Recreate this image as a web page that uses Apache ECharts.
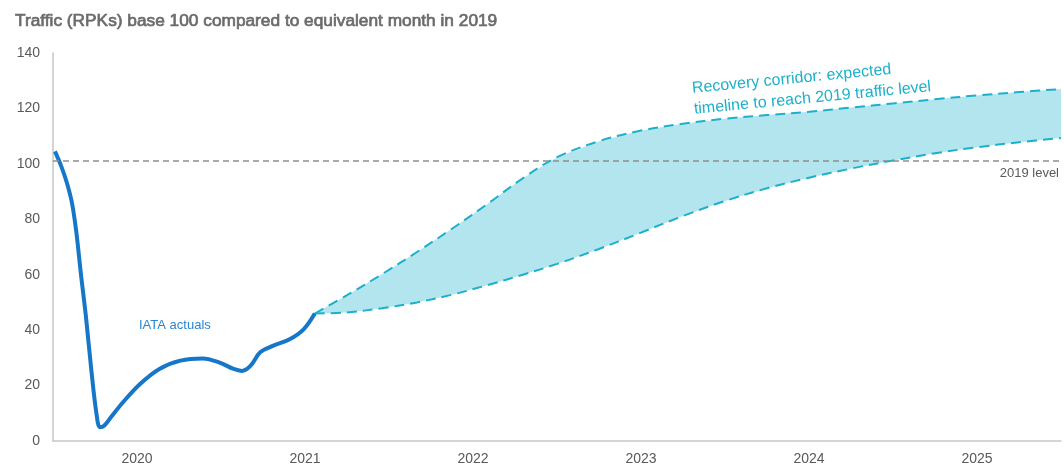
<!DOCTYPE html>
<html>
<head>
<meta charset="utf-8">
<title>Traffic (RPKs) recovery</title>
<script src="https://cdn.jsdelivr.net/npm/echarts@6.0.0/dist/echarts.min.js"></script>
<style>
  html, body { margin: 0; padding: 0; background: #fff; }
  #chart { width: 1064px; height: 466px; }
</style>
</head>
<body>
<div id="chart"></div>
<script>
// x positions are months since Jan 2020 (0 = start of 2020, 72 = end of 2025)
var years = ['2020', '2021', '2022', '2023', '2024', '2025'];

// IATA actuals
var actualMonth = [0.14, 0.6, 1.0, 1.35, 1.65, 2.0, 2.35, 2.75, 3.1, 3.35, 3.65, 4.2, 5.0, 6.2, 7.6, 9.1, 10.7, 11.9, 12.9, 13.5, 14.1, 14.8, 15.7, 16.9, 17.9, 18.7];
var actualValue = [104.5, 99, 93, 86, 76, 60, 45, 25, 10, 5, 5.5, 9, 14, 20.5, 26, 29, 29.8, 28.3, 26, 25.3, 27.1, 32, 34.3, 36.7, 40.3, 46];

// recovery corridor
var corridorMonth = [18.7, 21, 23.5, 26, 28.5, 31, 33.5, 36, 39, 42, 45, 48, 51, 54, 57, 60, 63, 66, 69, 72];
var corridorHigh = [46, 52.6, 60.2, 68.2, 76.6, 85.4, 94.6, 102.4, 108.2, 112, 114.5, 116.3, 117.6, 118.8, 120.3, 121.8, 123.3, 124.7, 125.9, 127];
var corridorLow = [46, 46.4, 47.9, 50, 52.8, 56.2, 59.9, 63.9, 69.3, 75.2, 81.2, 86.6, 91.2, 95, 98.3, 101.2, 103.8, 106, 107.8, 109.3];

var level2019 = 101;
var yTicks = [0, 20, 40, 60, 80, 100, 120, 140];

function pairs(xs, ys) {
    var out = [];
    for (var i = 0; i < xs.length; i++) {
        out.push([xs[i], ys[i]]);
    }
    return out;
}

var actualData = pairs(actualMonth, actualValue);
var highData = pairs(corridorMonth, corridorHigh);
var lowData = pairs(corridorMonth, corridorLow);

var font = "'Liberation Sans', Arial, sans-serif";
var teal = '#1cb1cb';

var option = {
    animation: false,
    title: {
        text: 'Traffic (RPKs) base 100 compared to equivalent month in 2019',
        left: 10,
        top: 8,
        textStyle: {
            fontFamily: font,
            fontSize: 17.3,
            fontWeight: 'normal',
            color: '#6b6b6b',
            textBorderColor: '#6b6b6b',
            textBorderWidth: 0.7
        }
    },
    grid: {
        left: 53,
        right: 3,
        top: 53,
        bottom: 24
    },
    xAxis: [
        {
            type: 'category',
            data: years,
            boundaryGap: true,
            axisLine: { lineStyle: { color: '#c6c6c6', width: 1.5 } },
            axisTick: { inside: true, length: 5, alignWithLabel: false, lineStyle: { color: '#c6c6c6' } },
            axisLabel: { margin: 11, color: '#595959', fontSize: 14, fontFamily: font },
            splitLine: { show: false }
        },
        {
            type: 'value',
            min: 0,
            max: 72,
            show: false
        }
    ],
    yAxis: {
        type: 'value',
        min: yTicks[0],
        max: yTicks[yTicks.length - 1],
        interval: 20,
        axisLine: { show: true, lineStyle: { color: '#c6c6c6', width: 1.5 } },
        axisTick: { show: false },
        axisLabel: { margin: 13, color: '#595959', fontSize: 14, fontFamily: font },
        splitLine: { show: false }
    },
    graphic: [
        {
            type: 'text',
            x: 139,
            y: 319,
            style: {
                text: 'IATA actuals',
                font: '13px ' + font,
                fill: '#2a86d1'
            }
        },
        {
            type: 'text',
            x: 691,
            y: 78,
            rotation: 0.095,
            style: {
                text: 'Recovery corridor: expected\ntimeline to reach 2019 traffic level',
                font: '16px ' + font,
                fill: teal,
                lineHeight: 21
            }
        }
    ],
    series: [
        {
            // corridor fill between low and high
            type: 'custom',
            xAxisIndex: 1,
            silent: true,
            z: 1,
            data: [[corridorMonth[0], corridorLow[0]]],
            renderItem: function (params, api) {
                var pts = [];
                for (var i = 0; i < highData.length; i++) {
                    pts.push(api.coord(highData[i]));
                }
                for (var j = lowData.length - 1; j >= 0; j--) {
                    pts.push(api.coord(lowData[j]));
                }
                return {
                    type: 'polygon',
                    shape: { points: pts },
                    style: { fill: '#b3e5ef' }
                };
            }
        },
        {
            name: 'high',
            type: 'line',
            xAxisIndex: 1,
            data: highData,
            smooth: 0.35,
            symbol: 'none',
            z: 2,
            lineStyle: { color: teal, width: 2, type: [10, 6] }
        },
        {
            name: 'low',
            type: 'line',
            xAxisIndex: 1,
            data: lowData,
            smooth: 0.35,
            symbol: 'none',
            z: 2,
            lineStyle: { color: teal, width: 2, type: [10, 6] }
        },
        {
            name: 'IATA actuals',
            type: 'line',
            xAxisIndex: 1,
            data: actualData,
            smooth: 0.35,
            symbol: 'none',
            z: 3,
            lineStyle: { color: '#1677c9', width: 4 },
            markLine: {
                silent: true,
                symbol: 'none',
                lineStyle: { color: '#8e8e8e', width: 1.5, type: [6, 4] },
                label: {
                    position: 'insideEndBottom',
                    formatter: '2019 level',
                    color: '#595959',
                    fontSize: 13,
                    fontFamily: font,
                    distance: [2, 6]
                },
                data: [{ yAxis: level2019 }]
            }
        }
    ]
};

echarts.init(document.getElementById('chart')).setOption(option);
</script>
</body>
</html>
